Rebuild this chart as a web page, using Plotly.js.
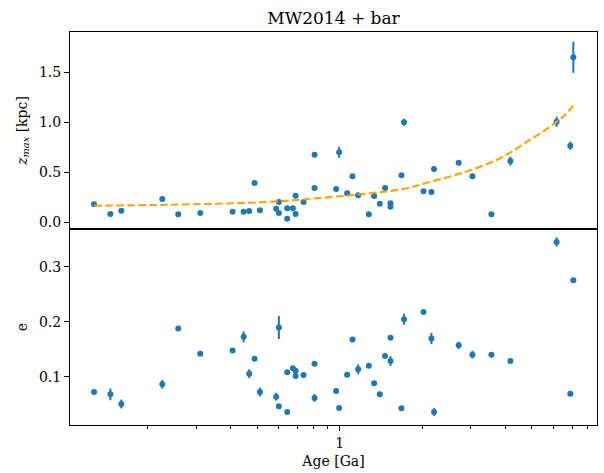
<!DOCTYPE html>
<html>
<head>
<meta charset="utf-8">
<script src="https://cdn.plot.ly/plotly-3.0.1.min.js"></script>
<style>html,body{margin:0;padding:0;background:#fff;}#chart{width:604px;height:473px;}</style>
</head>
<body>
<div id="chart"></div>
<script>
// ---- data ----
const ages = [0.1275,0.1462,0.1602,0.2259,0.2582,0.3105,0.4073,0.4466,0.468,0.4895,
  0.5118,0.5866,0.600,0.600,0.6433,0.6433,0.6748,0.6902,0.6902,0.7379,
  0.8091,0.8091,0.9695,0.9941,1.063,1.112,1.166,1.275,1.333,1.398,
  1.461,1.529,1.529,1.676,1.713,2.016,2.155,2.202,2.708,3.038,
  3.562,4.177,6.153,6.901,7.076];
const zmax = [0.177,0.080,0.113,0.230,0.077,0.090,0.103,0.103,0.110,0.390,
  0.117,0.133,0.090,0.200,0.033,0.137,0.137,0.263,0.080,0.200,
  0.673,0.340,0.330,0.697,0.287,0.457,0.267,0.077,0.260,0.183,
  0.340,0.187,0.153,0.467,0.997,0.307,0.300,0.530,0.593,0.457,
  0.077,0.610,1.003,0.763,1.647];
const zmaxErr = [0.01,0.01,0.01,0.01,0.01,0.01,0.01,0.01,0.01,0.01,
  0.01,0.01,0.01,0.01,0.01,0.01,0.01,0.01,0.01,0.01,
  0.015,0.01,0.01,0.055,0.01,0.015,0.01,0.01,0.01,0.01,
  0.015,0.01,0.01,0.01,0.035,0.01,0.01,0.03,0.01,0.01,
  0.01,0.045,0.05,0.04,0.155];
const ecc = [0.0727,0.0685,0.051,0.0867,0.188,0.142,0.148,0.173,0.106,0.133,
  0.0727,0.064,0.190,0.0467,0.0364,0.1085,0.116,0.1115,0.102,0.1036,
  0.124,0.062,0.0745,0.0436,0.104,0.168,0.114,0.1206,0.0885,0.0685,
  0.138,0.1715,0.129,0.043,0.205,0.218,0.170,0.0364,0.1576,0.1406,
  0.1406,0.129,0.3455,0.0697,0.276];
const eccErr = [0.003,0.0106,0.008,0.008,0.003,0.004,0.003,0.010,0.008,0.003,
  0.008,0.007,0.021,0.003,0.003,0.003,0.003,0.003,0.003,0.003,
  0.003,0.007,0.003,0.003,0.003,0.003,0.009,0.003,0.003,0.003,
  0.003,0.003,0.009,0.003,0.010,0.003,0.010,0.007,0.0067,0.007,
  0.003,0.003,0.0085,0.003,0.003];
const fitAge = [0.1275,0.2408,0.5414,0.846,1.286,1.699,2.125,2.808,3.714,4.268,4.909,5.645,6.486,7.076];
const fitZ   = [0.163,0.173,0.200,0.240,0.287,0.330,0.400,0.493,0.620,0.710,0.820,0.927,1.053,1.160];
const xMajorTicks = [1];
const xMajorLabels = ['1'];
const xMinorTicks = [0.2,0.3,0.4,0.5,0.6,0.7,0.8,0.9,2,3,4,5,6,7,8];
const titleText = 'MW2014 + bar';
const xLabel = 'Age [Ga]';
const yTopLabel = '<i>z</i><sub><i>max</i></sub> [kpc]';
const yBotLabel = 'e';

// ---- styling ----
const blue = '#1f77b4';
const FONT = 'DejaVu Serif';
const split = (473-48-229)/(473-48-32);

const traces = [
  {x: ages, y: zmax, xaxis:'x2', yaxis:'y2', type:'scatter', mode:'markers',
   marker:{color:blue, size:6},
   error_y:{type:'data', array:zmaxErr, visible:true, color:blue, thickness:2, width:0},
   hoverinfo:'skip', showlegend:false},
  {x: fitAge, y: fitZ, xaxis:'x2', yaxis:'y2', type:'scatter', mode:'lines',
   line:{color:'orange', width:2.1, dash:'7.7px,3.3px', shape:'spline'},
   hoverinfo:'skip', showlegend:false},
  {x: ages, y: ecc, xaxis:'x', yaxis:'y', type:'scatter', mode:'markers',
   marker:{color:blue, size:6},
   error_y:{type:'data', array:eccErr, visible:true, color:blue, thickness:2, width:0},
   hoverinfo:'skip', showlegend:false}
];

const xr = [-0.982, 0.936];
const commonAxis = {showline:true, mirror:true, linecolor:'black', linewidth:1,
  showgrid:false, zeroline:false, tickfont:{family:FONT, size:14, color:'black'},
  ticks:'outside', ticklen:5, tickwidth:1, tickcolor:'black'};

const layout = {
  width:604, height:473,
  margin:{l:70, r:7, t:32, b:48},
  paper_bgcolor:'white', plot_bgcolor:'white',
  font:{family:FONT, color:'black'},
  title:{text:titleText, font:{family:FONT, size:17, color:'black'},
    xref:'paper', x:0.5, xanchor:'center', yref:'container', y:1-18/473, yanchor:'middle'},
  xaxis: Object.assign({}, commonAxis, {
    type:'log', range:xr, domain:[0,1], anchor:'y',
    tickmode:'array', tickvals:xMajorTicks, ticktext:xMajorLabels,
    minor:{tickmode:'array', tickvals:xMinorTicks, ticks:'outside', ticklen:3, tickwidth:1, tickcolor:'black', showgrid:false},
    title:{text:xLabel, font:{family:FONT, size:14, color:'black'}, standoff:6}
  }),
  xaxis2: Object.assign({}, commonAxis, {
    type:'log', range:xr, domain:[0,1], anchor:'y2', matches:'x',
    ticks:'', showticklabels:false
  }),
  yaxis: Object.assign({}, commonAxis, {
    domain:[0, split], anchor:'x', range:[0.0127, 0.369],
    tickmode:'array', tickvals:[0.1,0.2,0.3], ticktext:['0.1','0.2','0.3'],
    title:{text:yBotLabel, font:{family:FONT, size:14, color:'black'}, standoff:8}
  }),
  yaxis2: Object.assign({}, commonAxis, {
    domain:[split, 1], anchor:'x2', range:[-0.07, 1.90],
    tickmode:'array', tickvals:[0,0.5,1,1.5], ticktext:['0.0','0.5','1.0','1.5'],
    title:{text:yTopLabel, font:{family:FONT, size:14, color:'black'}, standoff:8}
  })
};

Plotly.newPlot('chart', traces, layout, {staticPlot:true, displayModeBar:false});
</script>
</body>
</html>
